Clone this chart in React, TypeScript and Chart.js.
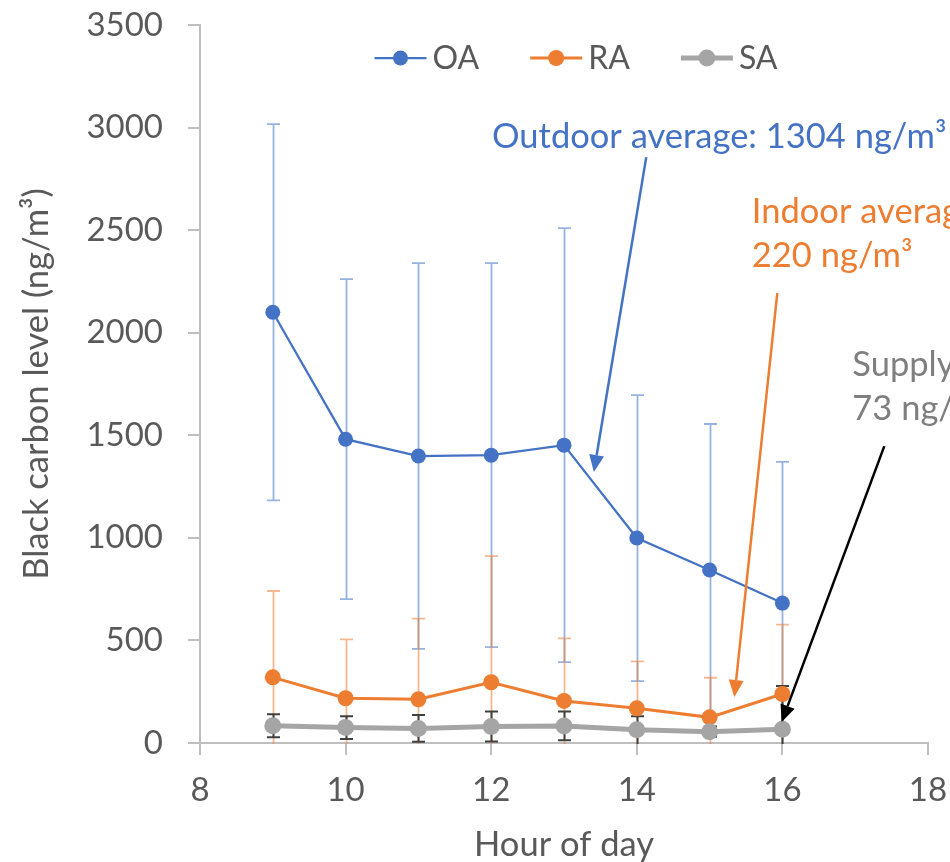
import React, { useEffect, useRef } from "react";
import { Chart, registerables } from "chart.js";

Chart.register(...registerables);

// ---------- data ----------
const hours = [9, 10, 11, 12, 13, 14, 15, 16];
const seriesNames = ["OA", "RA", "SA"];
const oaMean = [2100, 1481, 1399, 1403, 1452, 999, 843, 682];
const oaSd = [917, 780, 940, 936, 1058, 697, 712, 688];
const raMean = [320, 218, 213, 296, 205, 169, 125, 239];
const raSd = [421, 287, 393, 615, 305, 229, 193, 338];
const saMean = [84, 75, 71, 80, 83, 65, 55, 67];
const saSd = [56, 55, 65, 73, 70, 66, 25, 211];
const xAxisRange = [8, 18, 2]; // min, max, step
const yAxisRange = [0, 3500, 500];
const xTitle = "Hour of day";
const yTitle = "Black carbon level (ng/m³)";
const oaNote = ["Outdoor average: 1304 ng/m³"];
const raNote = ["Indoor average:", "220 ng/m³"];
const saNote = ["Supply average:", "73 ng/m³"];

const FONT = "Lato, 'Noto Sans', sans-serif";
const TEXT = "#595959";
const AXIS = "#BFBFBF";

const series = [
  { mean: oaMean, sd: oaSd, color: "#4472C4", err: "rgba(68,114,196,0.55)", lw: 2.25, r: 7.5, capW: 1.8 },
  { mean: raMean, sd: raSd, color: "#ED7D31", err: "rgba(237,125,49,0.55)", lw: 3, r: 8, capW: 1.8 },
  { mean: saMean, sd: saSd, color: "#A5A5A5", err: "#404040", lw: 5, r: 8.5, capW: 2 },
];

const errorBarsPlugin = {
  id: "errorBars",
  beforeDatasetsDraw(chart: any) {
    const { ctx, chartArea, scales } = chart;
    const xs = scales.x, ys = scales.y;
    ctx.save();
    ctx.beginPath();
    ctx.rect(chartArea.left, chartArea.top - 2, chartArea.right - chartArea.left, chartArea.bottom - chartArea.top + 4);
    ctx.clip();
    series.forEach((s) => {
      ctx.strokeStyle = s.err;
      ctx.lineWidth = s.capW;
      hours.forEach((h, j) => {
        const x = Math.round(xs.getPixelForValue(h)) + 0.5;
        const hi = s.mean[j] + s.sd[j];
        const lo = s.mean[j] - s.sd[j];
        const yHi = ys.getPixelForValue(hi);
        const yLo = lo < 0 ? chartArea.bottom + 1 : ys.getPixelForValue(lo);
        ctx.beginPath();
        ctx.moveTo(x, yHi);
        ctx.lineTo(x, yLo);
        ctx.moveTo(x - 6.5, yHi);
        ctx.lineTo(x + 6.5, yHi);
        if (lo >= 0) {
          ctx.moveTo(x - 6.5, yLo);
          ctx.lineTo(x + 6.5, yLo);
        }
        ctx.stroke();
      });
    });
    ctx.restore();
  },
};

function arrow(ctx: any, x1: number, y1: number, x2: number, y2: number, color: string) {
  const ang = Math.atan2(y2 - y1, x2 - x1);
  const hl = 17, hw = 7.5;
  const bx = x2 - hl * Math.cos(ang), by = y2 - hl * Math.sin(ang);
  ctx.strokeStyle = color;
  ctx.fillStyle = color;
  ctx.lineWidth = 2.5;
  ctx.beginPath();
  ctx.moveTo(x1, y1);
  ctx.lineTo(bx, by);
  ctx.stroke();
  ctx.beginPath();
  ctx.moveTo(x2, y2);
  ctx.lineTo(bx + hw * Math.sin(ang), by - hw * Math.cos(ang));
  ctx.lineTo(bx - hw * Math.sin(ang), by + hw * Math.cos(ang));
  ctx.closePath();
  ctx.fill();
}

const annotationsPlugin = {
  id: "notes",
  afterDraw(chart: any) {
    const { ctx, scales } = chart;
    const px = (v: number) => scales.x.getPixelForValue(v);
    const py = (v: number) => scales.y.getPixelForValue(v);
    ctx.save();
    ctx.font = `34.5px ${FONT}`;
    ctx.textAlign = "left";
    ctx.textBaseline = "alphabetic";
    const notes = [
      { lines: oaNote, color: "#4472C4", x: 12.01, y: 2900, from: [14.13, 2856], to: [13.41, 1321], ac: "#4472C4" },
      { lines: raNote, color: "#ED7D31", x: 15.58, y: 2534, from: [15.93, 2193], to: [15.34, 224], ac: "#ED7D31" },
      { lines: saNote, color: "#7F7F7F", x: 16.96, y: 1788, from: [17.4, 1447], to: [15.99, 102], ac: "#000000" },
    ];
    notes.forEach((n) => {
      ctx.fillStyle = n.color;
      n.lines.forEach((t, i) => ctx.fillText(t, px(n.x), py(n.y) + i * 44));
      arrow(ctx, px(n.from[0]), py(n.from[1]), px(n.to[0]), py(n.to[1]), n.ac);
    });
    // legend
    ctx.font = `32px ${FONT}`;
    const lineLen = 52, gap = 6, spacing = 51;
    const widths = seriesNames.map((t) => ctx.measureText(t).width);
    const total = widths.reduce((a, b) => a + b, 0) + seriesNames.length * (lineLen + gap) + spacing * (seriesNames.length - 1);
    let x = (chart.chartArea.left + chart.chartArea.right) / 2 + 12 - total / 2;
    const y = 58;
    ctx.textBaseline = "middle";
    seriesNames.forEach((t, i) => {
      const s = series[i];
      ctx.strokeStyle = s.color;
      ctx.lineWidth = s.lw;
      ctx.beginPath();
      ctx.moveTo(x, y);
      ctx.lineTo(x + lineLen, y);
      ctx.stroke();
      ctx.fillStyle = s.color;
      ctx.beginPath();
      ctx.arc(x + lineLen / 2, y, s.r, 0, Math.PI * 2);
      ctx.fill();
      ctx.fillStyle = TEXT;
      ctx.fillText(t, x + lineLen + gap, y + 1);
      x += lineLen + gap + widths[i] + spacing;
    });
    ctx.restore();
  },
};

export default function App() {
  const ref = useRef<HTMLCanvasElement | null>(null);
  useEffect(() => {
    document.body.style.margin = "0";
    const canvas = ref.current!;
    const chart = new Chart(canvas, {
      type: "line",
      data: {
        datasets: series.map((s, i) => ({
          label: seriesNames[i],
          data: hours.map((h, j) => ({ x: h, y: s.mean[j] })),
          borderColor: s.color,
          backgroundColor: s.color,
          borderWidth: s.lw,
          pointRadius: s.r,
          pointBorderWidth: 0,
          pointBackgroundColor: s.color,
          pointHoverRadius: s.r,
          order: 2 - i,
          tension: 0,
        })),
      },
      options: {
        responsive: false,
        animation: false,
        devicePixelRatio: 1,
        layout: { padding: { left: 0, right: 22, top: 25, bottom: 0 } },
        plugins: { legend: { display: false }, tooltip: { enabled: false } },
        scales: {
          x: {
            type: "linear",
            min: xAxisRange[0],
            max: xAxisRange[1],
            ticks: { stepSize: xAxisRange[2], color: TEXT, font: { family: FONT, size: 33 }, padding: 16 },
            grid: { drawOnChartArea: false, drawTicks: true, tickLength: 12, color: AXIS, lineWidth: 2 },
            border: { display: true, color: AXIS, width: 2 },
            title: { display: true, text: xTitle, color: TEXT, font: { family: FONT, size: 34.5 }, padding: { top: 0, bottom: -4 } },
            afterFit: (s: any) => { s.height = 119; s.paddingLeft = 0; s.paddingRight = 0; },
          },
          y: {
            type: "linear",
            min: yAxisRange[0],
            max: yAxisRange[1],
            ticks: { stepSize: yAxisRange[2], color: TEXT, font: { family: FONT, size: 33 }, padding: 25, callback: (v: any) => String(v) },
            grid: { drawOnChartArea: false, drawTicks: true, tickLength: 12, color: AXIS, lineWidth: 2 },
            border: { display: true, color: AXIS, width: 2 },
            title: { display: true, text: yTitle, color: TEXT, font: { family: FONT, size: 34.5 }, padding: { top: 16, bottom: 0 } },
            afterFit: (s: any) => { s.width = 200; s.paddingTop = 0; s.paddingBottom = 0; },
          },
        },
      },
      plugins: [errorBarsPlugin, annotationsPlugin],
    } as any);
    return () => chart.destroy();
  }, []);
  return (
    <div style={{ width: 950, height: 862 }}>
      <canvas ref={ref} width={950} height={862} style={{ display: "block" }} />
    </div>
  );
}
